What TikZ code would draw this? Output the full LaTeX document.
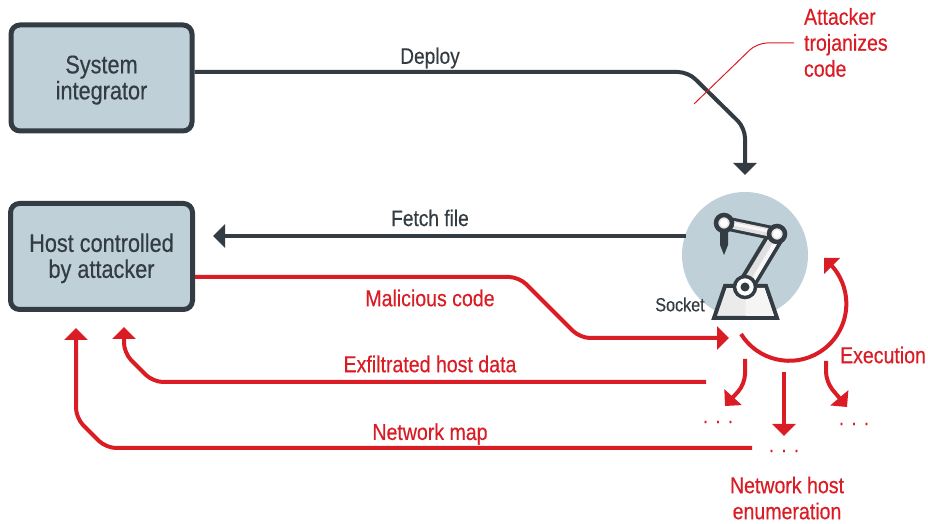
\documentclass[tikz,border=0pt]{standalone}
\usepackage{fontspec}
\setmainfont[FakeStretch=0.85,FakeBold=0.4]{Liberation Sans}
\usetikzlibrary{arrows.meta}

\definecolor{darkslate}{HTML}{333C43}
\definecolor{paleblue}{HTML}{C0D0D8}
\definecolor{alertred}{HTML}{DA1C24}

\tikzset{
	hostbox/.style={draw=darkslate, fill=paleblue, line width=5pt, rounded corners=9pt, minimum width=181pt, minimum height=106pt, align=center, text=darkslate, font=\fontsize{25.5}{26}\selectfont},
	darkflow/.style={draw=darkslate, line width=4pt, rounded corners=10pt, -{Triangle[width=23pt,length=12pt]}},
	redflow/.style={draw=alertred, line width=4pt, rounded corners=10pt, -{Triangle[width=23pt,length=12pt]}},
	darklabel/.style={text=darkslate, font=\fontsize{22.5}{26}\selectfont},
	redlabel/.style={text=alertred, align=center, font=\fontsize{23}{26}\selectfont},
	dotlabel/.style={text=alertred, font=\fontsize{22}{22}\selectfont}
}

\begin{document}
\begin{tikzpicture}[x=1pt,y=1pt]
	\useasboundingbox (0,0) rectangle (928,524);

	\node[hostbox] (sysint) at (101.5,446) {\mbox{}\\[-4pt]System\\integrator};
	\node[hostbox, minimum width=182pt] (attackhost) at (101.5,267.5) {\mbox{}\\[-4pt]Host controlled\\by attacker};

	\node[circle, fill=paleblue, minimum size=126pt, inner sep=0pt] (robot) at (745,269) {};

	\fill[fill=white] (700,196) rectangle (790,203);
	\draw[line width=4pt, draw=darkslate, line join=miter, fill=black!8] (714,206) -- (725,238) -- (766,238) -- (777,206) -- cycle;
	\fill[black!4] (745.5,208) -- (745.5,236) -- (764.5,236) -- (774,208) -- cycle;

	\draw[line width=18pt, draw=darkslate] (745,237) -- (777,290);
	\draw[line width=10pt, draw=black!12] (745,237) -- (777,290);
	\draw[line width=4pt, draw=black!3] (749,237) -- (779.5,288);
	\draw[line width=14pt, draw=darkslate] (724,301) -- (777,290);
	\draw[line width=8pt, draw=black!12] (724,301) -- (777,290);
	\draw[line width=3pt, draw=black!3] (724,302) -- (777,291);

	\fill[darkslate] (720,295) -- (720,279) -- (724,269) -- (728,279) -- (728,295) -- cycle;
	\draw[line width=3.5pt, draw=darkslate, fill=white] (745,237) circle (10.5);
	\fill[darkslate] (745,237) circle (4.5);
	\draw[line width=4.5pt, draw=darkslate, fill=black!10] (777,290) circle (8);
	\fill[white] (777,290) circle (4);
	\draw[line width=4.5pt, draw=darkslate, fill=black!10] (724,301) circle (8);
	\fill[white] (724,301) circle (4);

	\node[text=darkslate, font=\fontsize{19}{20}\selectfont] (socket) at (680,219.5) {Socket};

	\coordinate (deployend) at (745,349);
	\coordinate (fetchstart) at (686,288);
	\coordinate (codeend) at (729,186);
	\coordinate (exfilstart) at (706,142);
	\coordinate (mapstart) at (752,76);
	\coordinate (hosttipa) at (124,197);
	\coordinate (hosttipb) at (76,196);

	\draw[darkflow] ([yshift=6pt]sysint.east) -- (688,452) -- (745,396) -- (deployend);
	\draw[darkflow] (fetchstart) -- ([xshift=18pt,yshift=20.5pt]attackhost.east);
	\draw[redflow] ([yshift=-20.5pt]attackhost.east) -- (519,247) -- (580,186) -- (codeend);
	\draw[redflow] (exfilstart) -- (153,142) -- (124,171) -- (hosttipa);
	\draw[redflow] (mapstart) -- (106,76) -- (76,106) -- (hosttipb);

	\node[redlabel, align=left, anchor=west] (attacker) at (800.5,481.5) {Attacker\\trojanizes\\code};
	\draw[draw=alertred, line width=1pt, rounded corners=10pt] ([xshift=-6.5pt,yshift=-0.5pt]attacker.west) -- (757,481) -- (694,420);

	\node[darklabel] (deploy) at (430,466) {Deploy};
	\node[darklabel] (fetch) at (430,306) {Fetch file};
	\node[redlabel] (malicious) at (430,226) {Malicious code};
	\node[redlabel] (exfil) at (430,160) {Exfiltrated host data};
	\node[redlabel] (netmap) at (430,90) {Network map};
	\node[redlabel] (execution) at (883,169) {Execution};
	\node[redlabel] (netenum) at (787,26) {Network host\\enumeration};

	\node[dotlabel] (dotsleft) at (718,102) {.\,\,.\,\,.};
	\node[dotlabel] (dotsmid) at (784,73) {.\,\,.\,\,.};
	\node[dotlabel] (dotsright) at (854,100) {.\,\,.\,\,.};

	\draw[draw=alertred, line width=4pt] (741,190) arc (212:402:57);
	\fill[alertred] (824,266) -- (840,266) -- (824,250) -- cycle;

	\draw[redflow, rounded corners=10pt] (745,165) -- (745,140) -- (725,118);
	\draw[redflow] (784,152) -- (784,88);
	\draw[redflow, rounded corners=10pt] (826,163) -- (826,142) -- (847,117);
\end{tikzpicture}
\end{document}
